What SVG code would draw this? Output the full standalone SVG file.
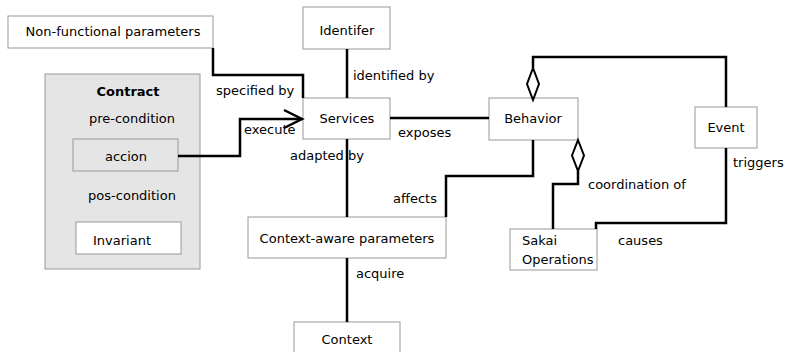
<svg xmlns="http://www.w3.org/2000/svg" width="787" height="352" viewBox="0 0 787 352">
<style>
.box{fill:#fff;stroke:#999;stroke-width:1}
.gbox{fill:#e5e5e5;stroke:#999;stroke-width:1}
.t{font-family:"DejaVu Sans",sans-serif;font-size:13px;fill:#000}
.c{text-anchor:middle}
.ln{fill:none;stroke:#000;stroke-width:2.5}
.dia{fill:#fff;stroke:#000;stroke-width:2}
</style>
<rect width="787" height="352" fill="#fff"/>
<g id="nonfunctional"><rect class="box" x="8" y="16" width="205" height="32"/><text class="t c" x="113" y="36">Non-functional parameters</text></g>
<g id="identifer"><rect class="box" x="303" y="7" width="87" height="42"/><text class="t c" x="347" y="35">Identifer</text></g>
<g id="services"><rect class="box" x="303" y="98" width="87" height="41"/><text class="t c" x="347" y="123">Services</text></g>
<g id="behavior"><rect class="box" x="489" y="98" width="89" height="42"/><text class="t c" x="533" y="123">Behavior</text></g>
<g id="event"><rect class="box" x="695" y="107" width="62" height="41"/><text class="t c" x="726" y="132">Event</text></g>
<g id="sakai"><rect class="box" x="510" y="229" width="87" height="41"/><text class="t" x="522" y="245">Sakai</text><text class="t" x="522" y="264">Operations</text></g>
<g id="contextaware"><rect class="box" x="248" y="217" width="198" height="41"/><text class="t c" x="347" y="243">Context-aware parameters</text></g>
<g id="context"><rect class="box" x="294" y="322" width="106" height="40"/><text class="t c" x="347" y="344">Context</text></g>
<g id="contract">
<rect class="gbox" x="45" y="74" width="155" height="195"/>
<text class="t c" x="128" y="96" font-weight="bold">Contract</text>
<text class="t c" x="132" y="123">pre-condition</text>
<g id="accion"><rect class="gbox" x="73" y="139" width="105" height="32"/><text class="t c" x="126" y="161">accion</text></g>
<text class="t c" x="132" y="200">pos-condition</text>
<g id="invariant"><rect class="box" x="76" y="222" width="105" height="32"/><text class="t c" x="122" y="245">Invariant</text></g>
</g>
<g id="connectors">
<path class="ln" d="M213,48 V75 H303 V98"/>
<path class="ln" d="M347,49 V98"/>
<path class="ln" d="M390,118 H489"/>
<path class="ln" d="M347,139 V217"/>
<path class="ln" d="M347,258 V322"/>
<path class="ln" d="M178,156 H240 V119 H302"/>
<path class="ln" d="M284,110 L302,119 L284,128"/>
<path class="ln" d="M533,140 V176 H446 V217"/>
<path class="ln" d="M533,68 V57 H726 V107"/>
<path class="ln" d="M726,148 V223 H596 V229"/>
<path class="ln" d="M578,171 V184 H553 V229"/>
<path class="dia" d="M533,68 L539,84 L533,100 L527,84 Z"/>
<path class="dia" d="M578,140 L584,155.5 L578,171 L572,155.5 Z"/>
</g>
<g id="labels">
<text class="t" x="216" y="95">specified by</text>
<text class="t" x="353" y="80">identified by</text>
<text class="t" x="398" y="137">exposes</text>
<text class="t" x="290" y="160">adapted by</text>
<text class="t" x="244" y="134">execute</text>
<text class="t" x="733" y="167">triggers</text>
<text class="t" x="588" y="189">coordination of</text>
<text class="t" x="618" y="245">causes</text>
<text class="t" x="393" y="203">affects</text>
<text class="t" x="356" y="278">acquire</text>
</g>
</svg>
